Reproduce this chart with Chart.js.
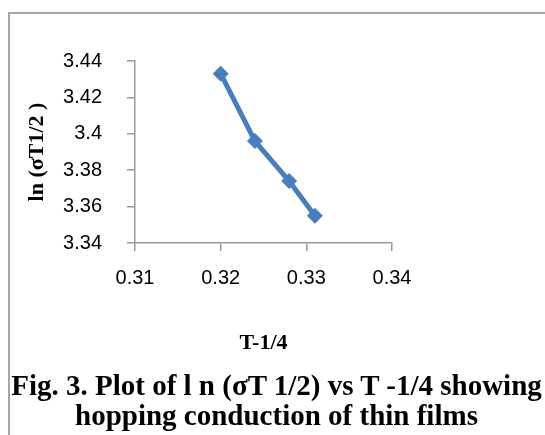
<!DOCTYPE html>
<html>
<head>
<meta charset="utf-8">
<script src="https://cdn.jsdelivr.net/npm/chart.js@4/dist/chart.umd.min.js"></script>
<style>
  body { margin: 0; background: #fff; }
  #wrap { position: relative; width: 545px; height: 435px; overflow: hidden; }
  #frame { position: absolute; left: 8px; top: 12px; width: 600px; height: 500px;
           border-top: 2px solid #a6a6a6; border-left: 2px solid #a6a6a6; }
  #chart { position: absolute; left: 0; top: 0; }
  #caption { position: absolute; left: 8px; width: 537px; top: 370px; text-align: center;
             font: bold 29px "Liberation Serif", "Times New Roman", serif; line-height: 30px; color: #000;
             white-space: nowrap; }
</style>
</head>
<body>
<div id="wrap">
  <div id="frame"></div>
  <canvas id="chart" width="545" height="373"></canvas>
  <div id="caption">Fig. 3. Plot of l n (σT 1/2) vs T -1/4 showing<br>hopping conduction of thin films</div>
</div>
<script>
const xValues = [0.320, 0.324, 0.328, 0.331];
const yValues = [3.433, 3.396, 3.374, 3.355];

const xTitle = 'T-1/4';
const yTitle = 'ln (σT1/2 )';

const points = xValues.map((x, i) => ({ x: x, y: yValues[i] }));

const ctx = document.getElementById('chart');

new Chart(ctx, {
    type: 'line',
    data: {
        datasets: [{
            data: points,
            borderColor: '#4a7ebb',
            backgroundColor: '#4a7ebb',
            borderWidth: 5,
            pointStyle: 'rectRot',
            pointRadius: 8,
            pointBorderWidth: 0,
            tension: 0
        }]
    },
    options: {
        responsive: false,
        animation: false,
        layout: {
            padding: { top: 61, right: 153, left: 10, bottom: 0 }
        },
        plugins: {
            legend: { display: false },
            tooltip: { enabled: false }
        },
        scales: {
            x: {
                type: 'linear',
                min: 0.31,
                max: 0.34,
                afterFit: (scale) => { scale.height = 130; },
                ticks: {
                    stepSize: 0.01,
                    padding: 15,
                    color: '#000',
                    font: { family: 'Liberation Sans', size: 20 }
                },
                grid: { drawOnChartArea: false, tickLength: 8, color: '#999', lineWidth: 1.5 },
                border: { color: '#999', width: 1.5 },
                title: {
                    display: true,
                    text: xTitle,
                    color: '#000',
                    font: { family: 'Liberation Serif', size: 22, weight: 'bold' },
                    padding: { top: 0, bottom: 16 }
                }
            },
            y: {
                min: 3.34,
                max: 3.44,
                afterFit: (scale) => { scale.width = 125; },
                ticks: {
                    stepSize: 0.02,
                    padding: 25,
                    color: '#000',
                    font: { family: 'Liberation Sans', size: 20 },
                    callback: (v) => String(+v.toFixed(2))
                },
                grid: { drawOnChartArea: false, tickLength: 8, color: '#999', lineWidth: 1.5 },
                border: { color: '#999', width: 1.5 },
                title: {
                    display: true,
                    text: yTitle,
                    color: '#000',
                    font: { family: 'Liberation Serif', size: 22, weight: 'bold' },
                    padding: { top: 14, bottom: 0 }
                }
            }
        }
    }
});
</script>
</body>
</html>
